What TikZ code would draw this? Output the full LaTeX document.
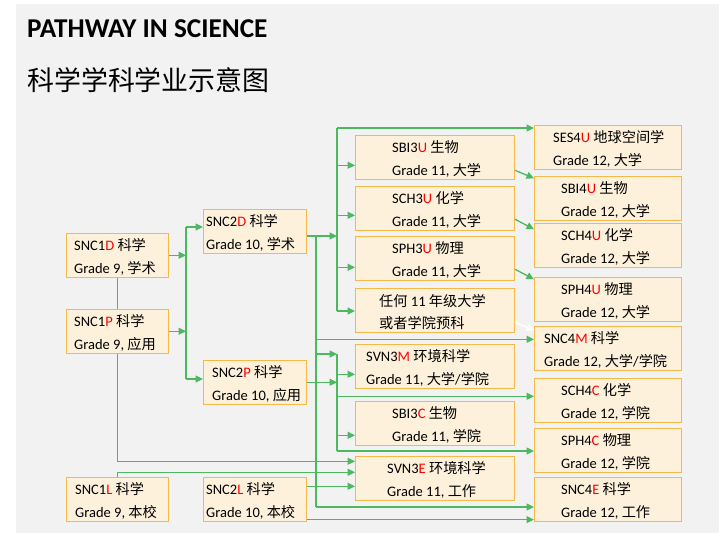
\documentclass[tikz,border=0pt]{standalone}
\usepackage{fontspec}
\setmainfont{Carlito}
\newfontfamily\zhfont[Scale=0.98]{Noto Sans CJK SC}
\newcommand{\zh}[1]{{\zhfont #1}}
\usetikzlibrary{positioning, arrows.meta}
\definecolor{pagebg}{HTML}{F2F2F2}
\definecolor{boxfill}{HTML}{FDF1DC}
\definecolor{boxline}{HTML}{F7B84A}
\definecolor{flow}{RGB}{76,184,96}
\definecolor{gradered}{HTML}{FF0000}
\newcommand{\redletter}[1]{\textcolor{gradered}{#1}}

\begin{document}
\begin{tikzpicture}[
    x=1pt, y=-1pt,
    course/.style={rectangle, draw=boxline, fill=boxfill, line width=1.1pt, anchor=north west, minimum height=43.5pt, inner sep=0pt},
    lvl9/.style={course, minimum width=102pt},
    lvl10/.style={course, minimum width=103pt},
    lvl11/.style={course, minimum width=159pt},
    lvl12/.style={course, minimum width=147pt},
    txt/.style={align=left, inner sep=0pt, yshift=-1.5pt, font=\fontsize{14.5}{22.5}\selectfont},
    link/.style={draw=flow, line width=1.3pt},
    arrow/.style={link, -{Triangle[length=7.5pt, width=7pt]}}
]
\useasboundingbox (0,0) rectangle (726,543);
\fill[pagebg] (16,4) rectangle (719,533);

% Titres
\node[anchor=base west, inner sep=0pt, font=\fontsize{27.2}{30}\selectfont\bfseries] (title) at (27,37.5) {PATHWAY IN SCIENCE};
\node[anchor=base west, inner sep=0pt, font=\fontsize{27.5}{30}\selectfont\zhfont] (subtitle) at (27,90.5) {科学学科学业示意图};

% Grade 9
\node[lvl9] (snc1d) at (66,233) {};
\node[txt, right=8pt of snc1d.west] (snc1dt) {SNC1\redletter{D} \zh{科学}\\Grade 9, \zh{学术}};
\node[lvl9] (snc1p) at (66,309) {};
\node[txt, right=8pt of snc1p.west] (snc1pt) {SNC1\redletter{P} \zh{科学}\\Grade 9, \zh{应用}};
\node[lvl9] (snc1l) at (66,477) {};
\node[txt, right=9pt of snc1l.west] (snc1lt) {SNC1\redletter{L} \zh{科学}\\Grade 9, \zh{本校}};

% Grade 10
\node[lvl10] (snc2d) at (203,209) {};
\node[txt, right=3pt of snc2d.west] (snc2dt) {SNC2\redletter{D} \zh{科学}\\Grade 10, \zh{学术}};
\node[lvl10] (snc2p) at (203,360) {};
\node[txt, right=9pt of snc2p.west] (snc2pt) {SNC2\redletter{P} \zh{科学}\\Grade 10, \zh{应用}};
\node[lvl10] (snc2l) at (203,477) {};
\node[txt, right=3pt of snc2l.west] (snc2lt) {SNC2\redletter{L} \zh{科学}\\Grade 10, \zh{本校}};

% Grade 11
\node[lvl11] (sbi3u) at (355,135) {};
\node[txt, right=37pt of sbi3u.west] (sbi3ut) {SBI3\redletter{U} \zh{生物}\\Grade 11, \zh{大学}};
\node[lvl11] (sch3u) at (355,186) {};
\node[txt, right=37pt of sch3u.west] (sch3ut) {SCH3\redletter{U} \zh{化学}\\Grade 11, \zh{大学}};
\node[lvl11] (sph3u) at (355,236) {};
\node[txt, right=37pt of sph3u.west] (sph3ut) {SPH3\redletter{U} \zh{物理}\\Grade 11, \zh{大学}};
\node[lvl11] (anyu) at (355,288) {};
\node[txt, right=24pt of anyu.west] (anyut) {\zh{任何} 11 \zh{年级大学}\\\zh{或者学院预科}};
\node[lvl11] (svn3m) at (355,344) {};
\node[txt, right=11pt of svn3m.west] (svn3mt) {SVN3\redletter{M} \zh{环境科学}\\Grade 11, \zh{大学}/\zh{学院}};
\node[lvl11] (sbi3c) at (355,401) {};
\node[txt, right=37pt of sbi3c.west] (sbi3ct) {SBI3\redletter{C} \zh{生物}\\Grade 11, \zh{学院}};
\node[lvl11] (svn3e) at (355,456) {};
\node[txt, right=32pt of svn3e.west] (svn3et) {SVN3\redletter{E} \zh{环境科学}\\Grade 11, \zh{工作}};

% Grade 12
\node[lvl12] (ses4u) at (534,125) {};
\node[txt, right=19pt of ses4u.west] (ses4ut) {SES4\redletter{U} \zh{地球空间学}\\Grade 12, \zh{大学}};
\node[lvl12] (sbi4u) at (534,176) {};
\node[txt, right=27pt of sbi4u.west] (sbi4ut) {SBI4\redletter{U} \zh{生物}\\Grade 12, \zh{大学}};
\node[lvl12] (sch4u) at (534,223) {};
\node[txt, right=27pt of sch4u.west] (sch4ut) {SCH4\redletter{U} \zh{化学}\\Grade 12, \zh{大学}};
\node[lvl12] (sph4u) at (534,277) {};
\node[txt, right=27pt of sph4u.west] (sph4ut) {SPH4\redletter{U} \zh{物理}\\Grade 12, \zh{大学}};
\node[lvl12] (snc4m) at (534,326) {};
\node[txt, right=10pt of snc4m.west] (snc4mt) {SNC4\redletter{M} \zh{科学}\\Grade 12, \zh{大学}/\zh{学院}};
\node[lvl12] (sch4c) at (534,378) {};
\node[txt, right=27pt of sch4c.west] (sch4ct) {SCH4\redletter{C} \zh{化学}\\Grade 12, \zh{学院}};
\node[lvl12] (sph4c) at (534,428) {};
\node[txt, right=27pt of sph4c.west] (sph4ct) {SPH4\redletter{C} \zh{物理}\\Grade 12, \zh{学院}};
\node[lvl12] (snc4e) at (534,477) {};
\node[txt, right=27pt of snc4e.west] (snc4et) {SNC4\redletter{E} \zh{科学}\\Grade 12, \zh{工作}};

% Grade 9 -> Grade 10
\coordinate (b1top) at (186,227);
\coordinate (b1bot) at (186,379);
\draw[link] (snc1d.south) -- (snc1p.north);
\draw[arrow] (snc1d.east) -- (snc1d.east -| b1top);
\draw[arrow] (snc1p.east) -- (snc1p.east -| b1top);
\draw[link] (b1top) -- (b1bot);
\draw[arrow] (b1top) -- (b1top -| snc2d.west);
\draw[arrow] (b1bot) -- (b1bot -| snc2p.west);

% vers SVN3E et SNC4E
\draw[arrow] (snc1p.south) |- ([yshift=17pt]svn3e.west);
\draw[arrow] (snc1l.north) |- ([yshift=6pt]svn3e.west);
\draw[arrow] ([yshift=13pt]snc2l.east) -- ([yshift=13pt]snc2l.east -| svn3e.west);
\draw[arrow] ([yshift=2pt]snc2l.south east) -- ([yshift=2pt]snc2l.south east -| snc4e.west);

% Grade 10 -> Grade 11/12
\coordinate (j2top) at (316,236);
\coordinate (j2bot) at (316,507);
\coordinate (b2top) at (337,128);
\coordinate (b2bot) at (337,311);
\coordinate (b3top) at (337,354);
\coordinate (b3bot) at (337,451);
\draw[arrow] (snc2d.east |- j2top) -- (j2top -| b2top);
\draw[link] (j2top) -- (j2bot);
\draw[arrow] (j2bot) -- (j2bot -| snc4e.west);
\draw[arrow] ([yshift=9pt]snc4m.west -| j2top) -- ([yshift=9pt]snc4m.west);
\draw[arrow] (b3top -| j2top) -- (b3top);
\draw[arrow] (snc2p.east) -- (snc2p.east -| b3top);

% bus du haut
\draw[link] (b2top) -- (b2bot);
\draw[arrow] (b2top) -- (b2top -| ses4u.west);
\draw[arrow] ([yshift=-8pt]sbi3u.west -| b2top) -- ([yshift=-8pt]sbi3u.west);
\draw[arrow] ([yshift=-7pt]sch3u.west -| b2top) -- ([yshift=-7pt]sch3u.west);
\draw[arrow] ([yshift=-9pt]sph3u.west -| b2top) -- ([yshift=-9pt]sph3u.west);
\draw[arrow] (b2bot) -- (b2bot -| anyu.west);

% bus du bas
\draw[link] (b3top) -- (b3bot);
\draw[arrow] ([yshift=-8pt]svn3m.west -| b3top) -- ([yshift=-8pt]svn3m.west);
\draw[arrow] ([yshift=4pt]sch4c.west -| b3top) -- ([yshift=4pt]sch4c.west);
\draw[arrow] ([yshift=-12pt]sbi3c.west -| b3top) -- ([yshift=-12pt]sbi3c.west);
\draw[arrow] (b3bot) -- (b3bot -| sph4c.west);

% Grade 11 -> Grade 12
\draw[arrow] ([yshift=-13pt]sbi3u.east) -- ([yshift=20pt]sbi4u.west);
\draw[arrow] ([yshift=-11pt]sch3u.east) -- ([yshift=16pt]sch4u.west);
\draw[arrow] ([yshift=-11pt]sph3u.east) -- ([yshift=20pt]sph4u.west);
\draw[arrow, draw=white] ([yshift=-12pt]anyu.east) -- ([yshift=18pt]snc4m.west);

\end{tikzpicture}
\end{document}
